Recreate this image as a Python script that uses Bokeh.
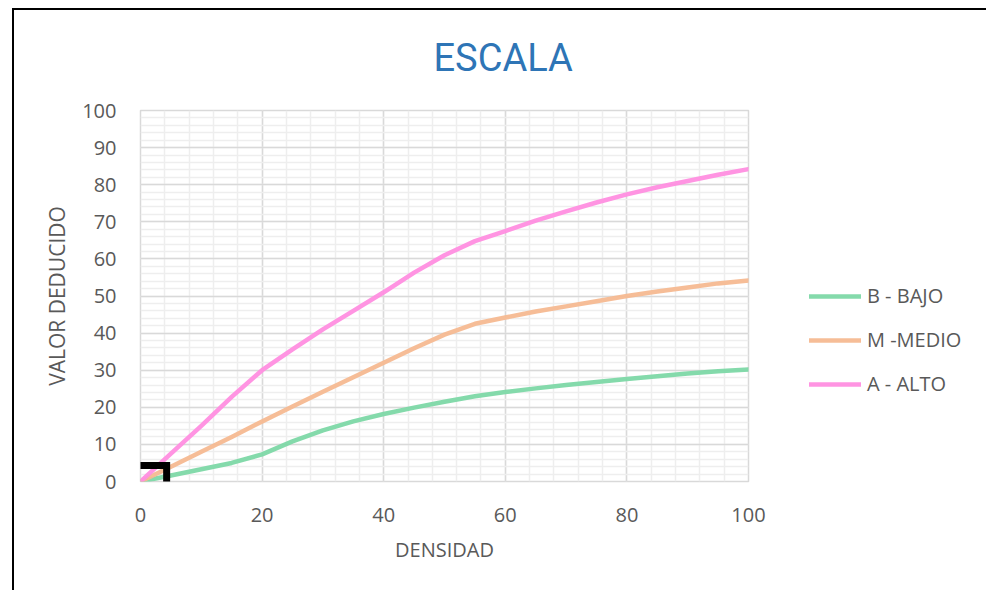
from bokeh.plotting import figure
from bokeh.models import Legend, LegendItem, FixedTicker, Title
from bokeh.embed import file_html
from bokeh.resources import INLINE

# data
densidad = [0, 5, 10, 15, 20, 25, 30, 35, 40, 45, 50, 55, 60, 65, 70, 75, 80, 85, 90, 95, 100]
bajo = [0, 1.6, 3.3, 5.0, 7.3, 10.8, 13.8, 16.2, 18.2, 19.9, 21.5, 23.0, 24.1, 25.1, 26.0, 26.8, 27.6, 28.4, 29.1, 29.7, 30.2]
medio = [0, 4.0, 8.0, 12.0, 16.2, 20.2, 24.2, 28.1, 32.0, 35.9, 39.6, 42.5, 44.2, 45.8, 47.2, 48.6, 50.0, 51.2, 52.3, 53.4, 54.2]
alto = [0, 7.5, 15.0, 22.8, 30.0, 35.6, 41.0, 46.0, 51.0, 56.3, 61.0, 64.8, 67.5, 70.3, 72.8, 75.2, 77.4, 79.3, 81.0, 82.7, 84.2]
series_names = ["B - BAJO", "M -MEDIO", "A - ALTO"]
series_colors = ["#7dd8a6", "#f5b991", "#ff8ee0"]
x_ticks = [0, 20, 40, 60, 80, 100]
y_ticks = [0, 10, 20, 30, 40, 50, 60, 70, 80, 90, 100]
mark_x = [-0.5, 4.3, 4.3]
mark_y = [4.3, 4.3, -2.2]
title_text = "ESCALA"

p = figure(frame_width=608, frame_height=371, output_backend="svg", toolbar_location=None,
           x_range=(0, 100), y_range=(0, 100),
           min_border_left=128, min_border_right=238, min_border_top=101, min_border_bottom=109)
p.border_fill_color = None
p.background_fill_color = "white"
# chart-area frame lines (top and left) drawn as CSS backgrounds behind the transparent canvas
p.styles = {"margin-left": "12px", "margin-top": "3px",
            "background-image": "linear-gradient(#000,#000), linear-gradient(#000,#000)",
            "background-size": "100% 2px, 2px 100%",
            "background-position": "0 5px, 0 5px",
            "background-repeat": "no-repeat"}

p.title = Title(text=title_text, align="left", offset=293, standoff=61,
                text_font="Roboto", text_font_size="38px",
                text_font_style="normal", text_color="#2e75b6")

renderers = []
for ys, c in zip([bajo, medio, alto], series_colors):
    r = p.line(densidad, ys, line_color=c, line_width=4.5, line_alpha=0.95,
               line_join="round", line_cap="round")
    renderers.append(r)

p.line(mark_x, mark_y, line_color="black", line_width=7, line_join="miter")

p.xaxis.ticker = FixedTicker(ticks=x_ticks, minor_ticks=list(range(0, 101, 4)))
p.yaxis.ticker = FixedTicker(ticks=y_ticks, minor_ticks=list(range(0, 101, 2)))
p.xgrid.grid_line_color = "#d9d9d9"
p.ygrid.grid_line_color = "#d9d9d9"
p.xgrid.grid_line_width = 1.5
p.ygrid.grid_line_width = 1.5
p.xgrid.minor_grid_line_color = "#eeeeee"
p.ygrid.minor_grid_line_color = "#eeeeee"
p.xgrid.minor_grid_line_width = 1.5
p.ygrid.minor_grid_line_width = 1.5
p.outline_line_color = "#d9d9d9"
p.outline_line_width = 1.5

for ax in (p.xaxis, p.yaxis):
    ax.axis_line_color = None
    ax.major_tick_line_color = None
    ax.minor_tick_line_color = None
    ax.major_tick_out = 0
    ax.minor_tick_out = 0
    ax.major_label_text_font = "Open Sans"
    ax.major_label_text_font_size = "20px"
    ax.major_label_text_color = "#595959"
    ax.axis_label_text_font = "Open Sans"
    ax.axis_label_text_color = "#595959"
    ax.axis_label_text_font_style = "normal"

p.xaxis.axis_label_text_font_size = "20px"
p.yaxis.axis_label_text_font_size = "21px"
p.xaxis.axis_label = "DENSIDAD"
p.yaxis.axis_label = "VALOR DEDUCIDO"
p.xaxis.major_label_standoff = 26
p.yaxis.major_label_standoff = 24
p.xaxis.axis_label_standoff = 11
p.yaxis.axis_label_standoff = 8

legend = Legend(items=[LegendItem(label=n, renderers=[r]) for n, r in zip(series_names, renderers)],
                location=(61, 84), padding=0, margin=0, spacing=17,
                glyph_width=52, glyph_height=20, label_height=20, label_standoff=6,
                label_text_font="Open Sans", label_text_font_size="20px",
                label_text_color="#595959", border_line_color=None,
                background_fill_alpha=0)
p.add_layout(legend, "right")

open("out.html", "w").write(file_html(p, INLINE))
